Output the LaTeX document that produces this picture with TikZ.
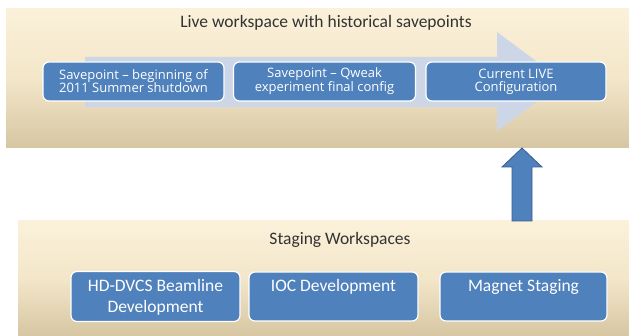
\documentclass[tikz,border=0pt]{standalone}
\usepackage{fontspec}
\setmainfont{Carlito}
\newfontfamily\boxfont{Open Sans}
\definecolor{cream}{HTML}{FBF1DA}
\definecolor{creammid}{HTML}{F3E6C9}
\definecolor{tan}{HTML}{D6C6A2}
\definecolor{officeblue}{HTML}{4F81BD}
\definecolor{blueedge}{HTML}{385D8A}
\definecolor{ghostblue}{HTML}{CDD6E6}
\tikzset{
  panel/.style={shading=axis, top color=cream, bottom color=tan, middle color=creammid, draw=none},
  savebox/.style={draw=white, line width=1.2pt, fill=officeblue, rounded corners=6pt,
     text=white, font=\boxfont\fontsize{13}{13}\selectfont, align=center, inner sep=0pt},
  stagebox/.style={draw=white, line width=1.2pt, fill=officeblue, rounded corners=6pt, inner sep=0pt},
  stagetext/.style={text=white, font=\fontsize{17.5}{21}\selectfont, align=center, anchor=north, inner sep=0pt},
  heading/.style={text=black!80, font=\fontsize{17.5}{20}\selectfont, inner sep=0pt},
  bigarrow/.style={fill=ghostblue, draw=none},
  uparrow/.style={fill=officeblue, draw=blueedge, line width=0.8pt, line join=miter},
}
\begin{document}
\begin{tikzpicture}[x=1pt, y=-1pt]
\useasboundingbox (0,0) rectangle (629,336);
% panels
\path[panel] (6,9) rectangle (629,148);
\path[panel] (18,221) rectangle (629,336);
% big background arrow
\path[bigarrow] (85,57) -- (497,57) -- (497,32) -- (564,82) -- (497,131) -- (497,107) -- (85,107) -- cycle;
% headings
\node[heading] (live) at (326,23) {Live workspace with historical savepoints};
\node[heading] (staging) at (340,240) {Staging Workspaces};
% savepoint boxes
\node[savebox, minimum width=181pt, minimum height=39pt] (sp1) at (133.5,81.5) {Savepoint – beginning of\\2011 Summer shutdown};
\node[savebox, minimum width=182pt, minimum height=39pt] (sp2) at (324.5,81.5) {Savepoint – Qweak\\experiment final config};
\node[savebox, minimum width=180pt, minimum height=39pt] (sp3) at (516,81.5) {Current LIVE\\Configuration};
% staging boxes
\node[stagebox, minimum width=169pt, minimum height=50pt] (hd) at (155.5,296.5) {};
\node[stagebox, minimum width=169pt, minimum height=49pt] (ioc) at (333.5,296.5) {};
\node[stagebox, minimum width=167pt, minimum height=49pt] (mag) at (523.5,296.5) {};
\node[stagetext] (hdt) at ([yshift=-8pt]hd.north) {HD-DVCS Beamline\\Development};
\node[stagetext] (ioct) at ([yshift=-8pt]ioc.north) {IOC Development};
\node[stagetext] (magt) at ([yshift=-8pt]mag.north) {Magnet Staging};
% up arrow from staging panel to live configuration
\coordinate (upbase) at (522,221);
\coordinate (uptip) at (522,148);
\path[uparrow] ([xshift=-10pt]upbase) -- ([xshift=-10pt,yshift=-19pt]uptip) -- ([xshift=-20pt,yshift=-19pt]uptip) -- (uptip) -- ([xshift=20pt,yshift=-19pt]uptip) -- ([xshift=10pt,yshift=-19pt]uptip) -- ([xshift=10pt]upbase) -- cycle;
\end{tikzpicture}
\end{document}
